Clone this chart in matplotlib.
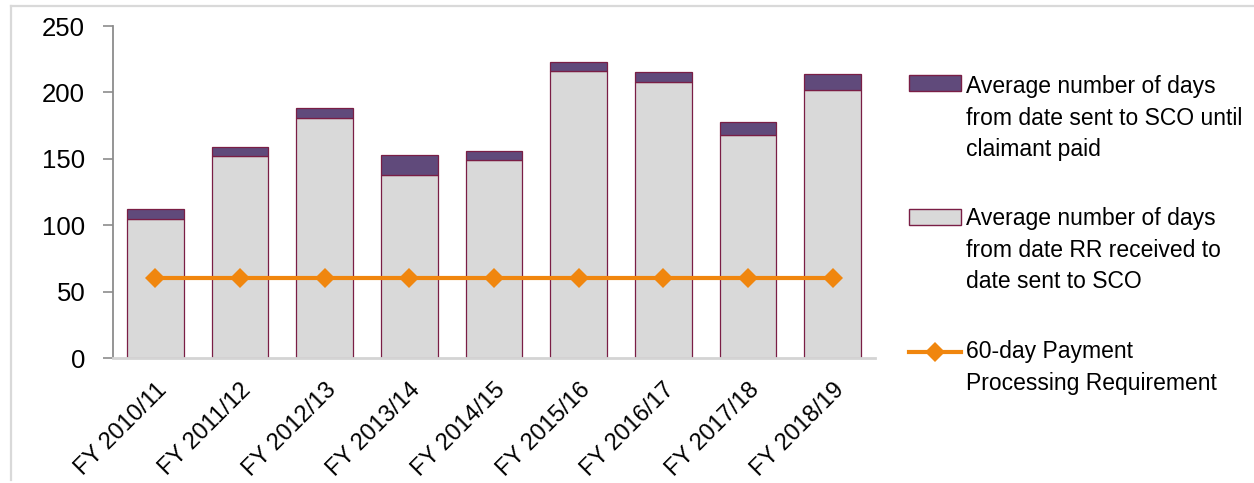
import matplotlib
matplotlib.use("Agg")
import matplotlib.pyplot as plt
import matplotlib.transforms as mtransforms
from matplotlib.patches import Rectangle
from matplotlib.lines import Line2D
import numpy as np

# ---- data ----
years = ["FY 2010/11", "FY 2011/12", "FY 2012/13", "FY 2013/14", "FY 2014/15",
         "FY 2015/16", "FY 2016/17", "FY 2017/18", "FY 2018/19"]
days_to_sco = [105, 152, 180.5, 138, 149, 216, 207.5, 168, 202]
days_sco_to_paid = [7, 7, 8, 15, 6.5, 7, 7.5, 9.5, 12]
requirement = [60, 60, 60, 60, 60, 60, 60, 60, 60]

label_paid = "Average number of days\nfrom date sent to SCO until\nclaimant paid"
label_sco = "Average number of days\nfrom date RR received to\ndate sent to SCO"
label_req = "60-day Payment\nProcessing Requirement"
yticks = [0, 50, 100, 150, 200, 250]

# ---- style ----
plt.rcParams["font.family"] = ["Liberation Sans", "DejaVu Sans"]
GRAY = "#d9d9d9"
PURPLE = "#604a7b"
EDGE = "#7a1e45"
ORANGE = "#f0860e"

W, H = 1254, 483
fig = plt.figure(figsize=(W / 100, H / 100), dpi=100)


def fx(px):
    return px / W


def fy(py):
    return 1 - py / H


ax = fig.add_axes([fx(113), fy(358), fx(875) - fx(113), fy(26) - fy(358)])

x = np.arange(len(years))
ax.bar(x, days_to_sco, width=0.67, color=GRAY, edgecolor=EDGE, linewidth=0.9, zorder=2)
ax.bar(x, days_sco_to_paid, bottom=days_to_sco, width=0.67, color=PURPLE,
       edgecolor=EDGE, linewidth=0.9, zorder=2)
ax.plot(x, requirement, color=ORANGE, linewidth=3, marker="D", markersize=10.5,
        markeredgewidth=0, zorder=3)

ax.set_xlim(-0.5, len(years) - 0.5)
ax.set_ylim(0, 250)
ax.set_yticks(yticks)
ax.set_yticklabels([str(v) for v in yticks], fontsize=18.5)
ax.tick_params(axis="y", length=7, width=1.2, color="#8c8c8c", pad=13)
ax.set_xticks(x)
ax.set_xticklabels(years, fontsize=17, rotation=45, ha="right", va="top",
                   rotation_mode="anchor")
ax.tick_params(axis="x", length=0, pad=15)
shift = mtransforms.ScaledTranslation(0 / 100, 0, fig.dpi_scale_trans)
for lab in ax.get_xticklabels():
    lab.set_transform(lab.get_transform() + shift)

for side in ("top", "right"):
    ax.spines[side].set_visible(False)
ax.spines["left"].set_color("#8c8c8c")
ax.spines["left"].set_linewidth(1.3)
ax.spines["bottom"].set_color("#d4d4d4")
ax.spines["bottom"].set_linewidth(2)

# ---- legend ----
fs_leg = 16.5
line_step = 31.7


def legend_label(text, first_baseline):
    for i, line in enumerate(text.split("\n")):
        fig.text(fx(966), fy(first_baseline + i * line_step), line, fontsize=fs_leg,
                 ha="left", va="baseline")


fig.patches.append(Rectangle((fx(909), fy(91)), fx(961) - fx(909), fy(75) - fy(91),
                             transform=fig.transFigure, facecolor=PURPLE,
                             edgecolor=EDGE, linewidth=1))
legend_label(label_paid, 93)
fig.patches.append(Rectangle((fx(909), fy(225)), fx(961) - fx(909), fy(209) - fy(225),
                             transform=fig.transFigure, facecolor=GRAY,
                             edgecolor=EDGE, linewidth=1))
legend_label(label_sco, 225)
fig.lines.append(Line2D([fx(909), fx(961)], [fy(352), fy(352)],
                        transform=fig.transFigure, color=ORANGE, linewidth=3))
fig.lines.append(Line2D([fx(935)], [fy(352)], transform=fig.transFigure,
                        color=ORANGE, marker="D", markersize=10.5, markeredgewidth=0,
                        linestyle="none"))
legend_label(label_req, 358)

# ---- outer frame ----
fig.lines.append(Line2D([fx(11), fx(1254)], [fy(6), fy(6)], transform=fig.transFigure,
                        color="#d9d9d9", linewidth=1.6))
fig.lines.append(Line2D([fx(11), fx(11)], [fy(6), fy(480)], transform=fig.transFigure,
                        color="#d9d9d9", linewidth=1.6))

fig.savefig("out.png", dpi=100)
